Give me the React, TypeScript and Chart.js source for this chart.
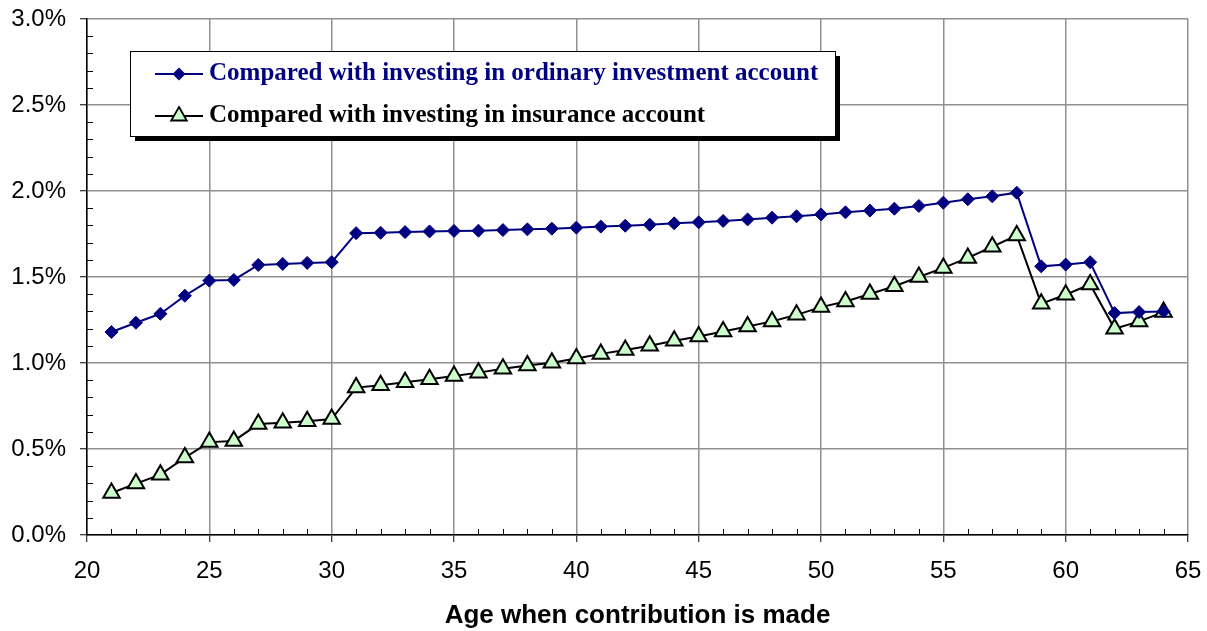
import React, { useEffect, useRef } from "react";
import { Chart, registerables } from "chart.js";

Chart.register(...registerables);

const ages = [21, 22, 23, 24, 25, 26, 27, 28, 29, 30, 31, 32, 33, 34, 35, 36, 37, 38, 39, 40, 41, 42, 43, 44, 45, 46, 47, 48, 49, 50, 51, 52, 53, 54, 55, 56, 57, 58, 59, 60, 61, 62, 63, 64];

const ordinaryAccount = [1.18, 1.234, 1.286, 1.391, 1.479, 1.483, 1.57, 1.576, 1.582, 1.586, 1.755, 1.757, 1.761, 1.765, 1.768, 1.769, 1.773, 1.777, 1.781, 1.787, 1.793, 1.798, 1.804, 1.812, 1.818, 1.826, 1.835, 1.845, 1.853, 1.864, 1.876, 1.886, 1.897, 1.913, 1.932, 1.952, 1.969, 1.99, 1.562, 1.572, 1.586, 1.29, 1.296, 1.3];

const insuranceAccount = [0.244, 0.299, 0.351, 0.45, 0.54, 0.547, 0.645, 0.652, 0.662, 0.674, 0.857, 0.87, 0.888, 0.905, 0.924, 0.944, 0.966, 0.985, 1.002, 1.026, 1.053, 1.076, 1.1, 1.129, 1.154, 1.183, 1.212, 1.242, 1.28, 1.325, 1.358, 1.401, 1.446, 1.5, 1.553, 1.611, 1.676, 1.742, 1.345, 1.397, 1.457, 1.199, 1.242, 1.296];

const seriesLabels = [
  "Compared with investing in ordinary investment account",
  "Compared with investing in insurance account",
];
const xTitle = "Age when contribution is made";

const NAVY = "#000080";
const TRI_FILL = "#ccffcc";
const GRID = "#909090";

const minorTicksPlugin = {
  id: "minorTicks",
  afterDraw(chart: any) {
    const ctx = chart.ctx;
    const xs = chart.scales.x;
    const ys = chart.scales.y;
    const area = chart.chartArea;
    ctx.save();
    ctx.strokeStyle = "#000";
    ctx.lineWidth = 1;
    ctx.beginPath();
    for (let v = 0; v <= 30; v++) {
      if (v % 5 === 0) continue;
      const py = Math.round(ys.getPixelForValue(v / 10)) + 0.5;
      ctx.moveTo(area.left, py);
      ctx.lineTo(area.left + 6, py);
    }
    for (let a = 20; a <= 65; a++) {
      if (a % 5 === 0) continue;
      const px = Math.round(xs.getPixelForValue(a)) + 0.5;
      ctx.moveTo(px, area.bottom);
      ctx.lineTo(px, area.bottom - 6);
    }
    ctx.stroke();
    ctx.restore();
  },
};

const legendBoxPlugin = {
  id: "legendBox",
  afterDraw(chart: any) {
    const ctx = chart.ctx;
    const bx = 130, by = 51, bw = 705, bh = 85;
    ctx.save();
    ctx.fillStyle = "#000";
    ctx.fillRect(bx + 5, by + 5, bw, bh);
    ctx.fillStyle = "#fff";
    ctx.fillRect(bx, by, bw, bh);
    ctx.strokeStyle = "#000";
    ctx.lineWidth = 1;
    ctx.strokeRect(bx + 0.5, by + 0.5, bw, bh);

    const rows = [
      { y: 74, color: NAVY, text: seriesLabels[0], marker: "diamond" },
      { y: 116, color: "#000", text: seriesLabels[1], marker: "triangle" },
    ];
    rows.forEach((r) => {
      ctx.strokeStyle = r.color;
      ctx.lineWidth = 2;
      ctx.beginPath();
      ctx.moveTo(155, r.y);
      ctx.lineTo(203, r.y);
      ctx.stroke();
      const cx = 179;
      ctx.beginPath();
      if (r.marker === "diamond") {
        ctx.moveTo(cx, r.y - 6.5);
        ctx.lineTo(cx + 6.5, r.y);
        ctx.lineTo(cx, r.y + 6.5);
        ctx.lineTo(cx - 6.5, r.y);
        ctx.closePath();
        ctx.fillStyle = NAVY;
        ctx.fill();
      } else {
        const rr = 9;
        ctx.moveTo(cx, r.y - rr);
        ctx.lineTo(cx + rr * 0.866, r.y + rr / 2);
        ctx.lineTo(cx - rr * 0.866, r.y + rr / 2);
        ctx.closePath();
        ctx.fillStyle = TRI_FILL;
        ctx.fill();
        ctx.lineWidth = 1.8;
        ctx.strokeStyle = "#000";
        ctx.stroke();
      }
      ctx.fillStyle = r.color;
      ctx.font = "bold 25px 'Liberation Serif', 'Times New Roman', serif";
      ctx.textAlign = "left";
      ctx.textBaseline = "middle";
      ctx.fillText(r.text, 209, r.y);
    });
    ctx.restore();
  },
};

export default function App() {
  const canvasRef = useRef<HTMLCanvasElement | null>(null);

  useEffect(() => {
    if (!canvasRef.current) return;
    const chart = new Chart(canvasRef.current, {
      type: "line",
      data: {
        datasets: [
          {
            label: seriesLabels[0],
            data: ages.map((a, i) => ({ x: a, y: ordinaryAccount[i] })),
            borderColor: NAVY,
            backgroundColor: NAVY,
            borderWidth: 2,
            pointStyle: "rectRot",
            pointRadius: 6.5,
            pointBorderWidth: 1,
            pointBorderColor: NAVY,
            pointBackgroundColor: NAVY,
            tension: 0,
          },
          {
            label: seriesLabels[1],
            data: ages.map((a, i) => ({ x: a, y: insuranceAccount[i] })),
            borderColor: "#000",
            backgroundColor: TRI_FILL,
            borderWidth: 2,
            pointStyle: "triangle",
            pointRadius: 9.5,
            pointBorderWidth: 2,
            pointBorderColor: "#000",
            pointBackgroundColor: TRI_FILL,
            tension: 0,
          },
        ],
      },
      options: {
        animation: false,
        responsive: false,
        maintainAspectRatio: false,
        layout: { padding: { top: 19, right: 19, left: 0, bottom: 0 } },
        plugins: {
          legend: { display: false },
          tooltip: { enabled: false },
        },
        scales: {
          x: {
            type: "linear",
            min: 20,
            max: 65,
            ticks: {
              stepSize: 5,
              color: "#000",
              padding: 15,
              maxRotation: 0,
              font: { family: "'Liberation Sans', Arial, sans-serif", size: 24 },
            },
            grid: { color: GRID, lineWidth: 1.5, tickLength: 7, tickColor: "#000", tickWidth: 1 },
            border: { display: true, color: "#000", width: 1.5 },
            title: {
              display: true,
              text: xTitle,
              color: "#000",
              padding: { top: 0, bottom: 0 },
              font: { family: "'Liberation Sans', Arial, sans-serif", size: 26, weight: "bold" },
            },
            afterFit: (s: any) => {
              s.height = 96;
              s.paddingLeft = 0;
              s.paddingRight = 0;
            },
          },
          y: {
            min: 0,
            max: 3,
            ticks: {
              stepSize: 0.5,
              color: "#000",
              padding: 14,
              callback: (v: any) => Number(v).toFixed(1) + "%",
              font: { family: "'Liberation Sans', Arial, sans-serif", size: 24 },
            },
            grid: { color: GRID, lineWidth: 1.5, tickLength: 7, tickColor: "#000", tickWidth: 1 },
            border: { display: true, color: "#000", width: 1.5 },
            afterFit: (s: any) => {
              s.width = 87;
              s.paddingTop = 0;
              s.paddingBottom = 0;
            },
          },
        },
      },
      plugins: [minorTicksPlugin, legendBoxPlugin],
    });
    return () => chart.destroy();
  }, []);

  return (
    <div style={{ position: "fixed", left: 0, top: 0, width: 1207, height: 631, background: "#fff" }}>
      <canvas ref={canvasRef} width={1207} height={631} style={{ width: 1207, height: 631, display: "block" }} />
    </div>
  );
}
